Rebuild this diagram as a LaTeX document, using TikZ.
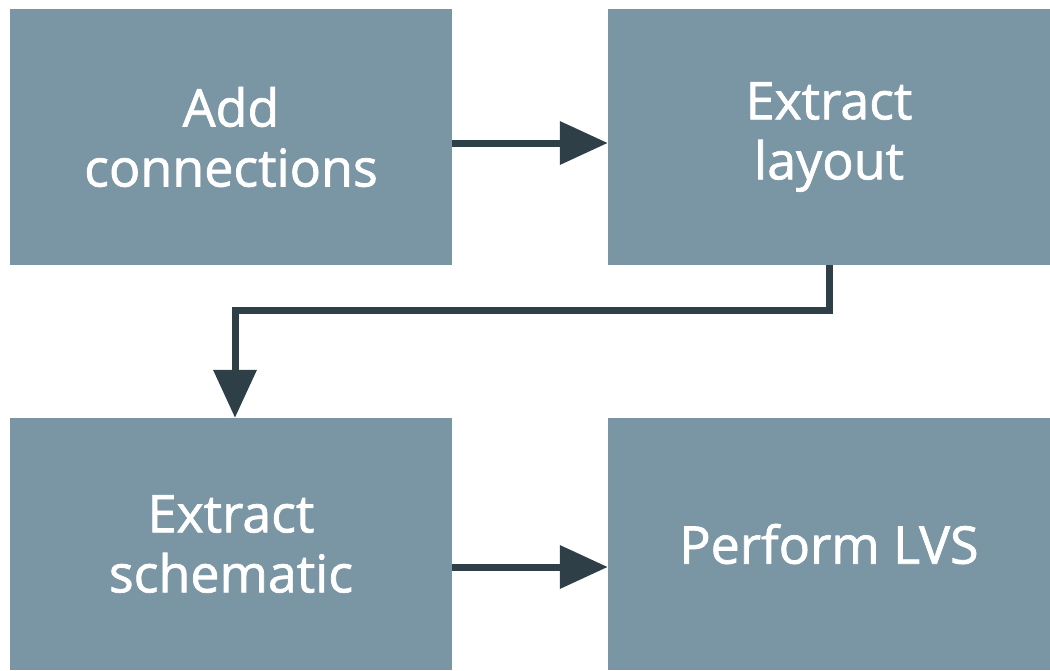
\documentclass[tikz,border=0pt]{standalone}
\usepackage{fontspec}
\setmainfont{Open Sans}[FakeBold=1.4]
\usetikzlibrary{arrows.meta}
\definecolor{boxfill}{HTML}{7A95A3}
\definecolor{arrowdark}{HTML}{2E3F47}
\begin{document}
\begin{tikzpicture}[x=1pt,y=-1pt,
  stepbox/.style={rectangle, fill=boxfill, draw=none, text=white,
    minimum width=442pt, align=center,
    font=\fontsize{52}{60}\selectfont, inner sep=0pt},
  flow/.style={draw=arrowdark, line width=7pt,
    -{Triangle[length=48pt,width=42pt]}}]
\useasboundingbox (0,0) rectangle (1050,670);
\node[stepbox, minimum height=256pt] (a) at (231,137) {Add\\connections};
\node[stepbox, minimum height=256pt] (b) at (829,137) {Extract\\layout};
\node[stepbox, minimum height=252pt] (c) at (231,544) {Extract\\schematic};
\node[stepbox, minimum height=252pt] (d) at (829,544) {Perform LVS};
\draw[flow] ([yshift=-6pt]a.east) -- ([yshift=-6pt]b.west);
\draw[flow] (b.south) -- (b.south |- 0,310) -| ([xshift=4pt]c.north);
\draw[flow] ([yshift=-23pt]c.east) -- ([yshift=-23pt]d.west);
\end{tikzpicture}
\end{document}
